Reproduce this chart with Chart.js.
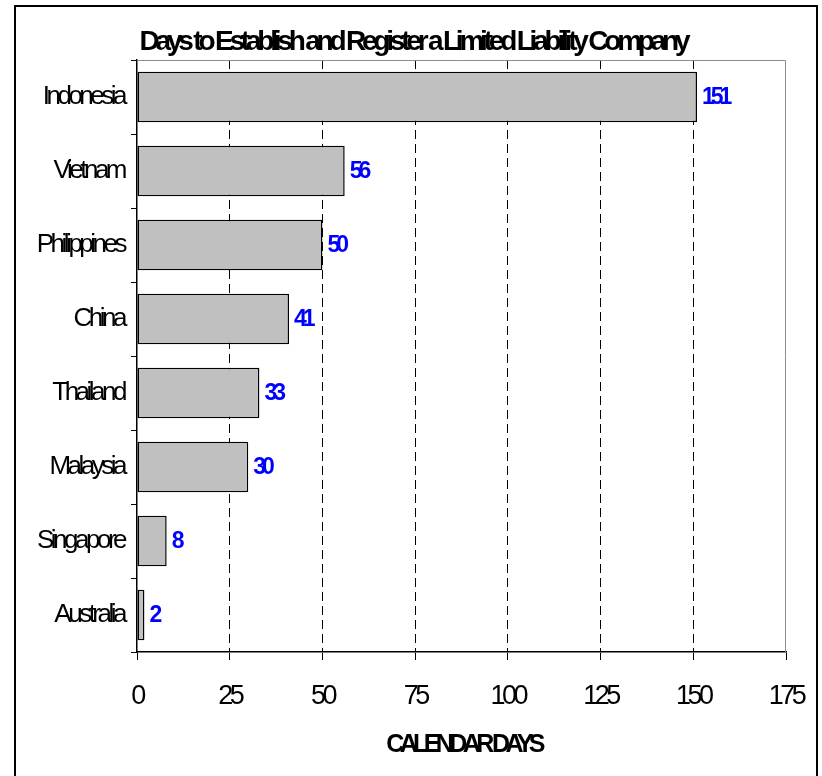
<!DOCTYPE html>
<html>
<head>
<meta charset="utf-8">
<script src="https://cdn.jsdelivr.net/npm/chart.js@4/dist/chart.umd.min.js"></script>
<style>
  html, body { margin: 0; padding: 0; background: #fff; }
  #wrap { width: 822px; height: 776px; }
</style>
</head>
<body>
<div id="wrap"><canvas id="chart" width="822" height="776"></canvas></div>
<script>
// Datos del gráfico
const countries = ['Indonesia', 'Vietnam', 'Philippines', 'China', 'Thailand', 'Malaysia', 'Singapore', 'Australia'];
const days = [151, 56, 50, 41, 33, 30, 8, 2];
const xTicks = [0, 25, 50, 75, 100, 125, 150, 175];
const chartTitle = 'Days to Establish and Register a Limited Liability Company';
const xAxisTitle = 'CALENDAR DAYS';

const family = "'Liberation Sans', Arial, sans-serif";

// Plugin para el marco, el título y las etiquetas de valores
const decorations = {
    id: 'decorations',
    beforeLayout(chart) {
        chart.ctx.letterSpacing = '-3.5px';
    },
    beforeDraw(chart) {
        const ctx = chart.ctx;
        ctx.letterSpacing = '-3.5px';
        ctx.save();
        ctx.strokeStyle = '#000';
        ctx.lineWidth = 2;
        ctx.strokeRect(15, 6, 802, 800);
        ctx.restore();
    },
    afterDatasetsDraw(chart) {
        const ctx = chart.ctx;
        const area = chart.chartArea;
        ctx.save();
        // borde gris superior y derecho del área de trazado
        ctx.strokeStyle = '#8c8c8c';
        ctx.lineWidth = 1;
        ctx.beginPath();
        ctx.moveTo(area.left, area.top + 0.5);
        ctx.lineTo(area.right - 0.5, area.top + 0.5);
        ctx.lineTo(area.right - 0.5, area.bottom);
        ctx.stroke();

        // etiquetas de valores
        ctx.letterSpacing = '-4px';
        ctx.fillStyle = '#0000ff';
        ctx.font = 'bold 23px ' + family;
        ctx.textAlign = 'left';
        ctx.textBaseline = 'middle';
        const meta = chart.getDatasetMeta(0);
        meta.data.forEach((bar, i) => {
            ctx.fillText(String(days[i]), bar.x + 5, bar.y + 1);
        });

        // título
        ctx.fillStyle = '#000';
        ctx.letterSpacing = '-4.2px';
        ctx.font = 'bold 28px ' + family;
        ctx.textAlign = 'center';
        ctx.textBaseline = 'alphabetic';
        ctx.fillText(chartTitle, 413, 50);

        // título del eje X
        ctx.letterSpacing = '-4.6px';
        ctx.font = 'bold 25px ' + family;
        ctx.fillText(xAxisTitle, (area.left + area.right) / 2 + 2, 752);
        ctx.restore();
    }
};

const ctx = document.getElementById('chart').getContext('2d');
window.myChart = new Chart(ctx, {
    type: 'bar',
    data: {
        labels: countries,
        datasets: [
            {
                data: days,
                backgroundColor: '#c0c0c0',
                borderColor: '#000',
                borderWidth: 1.5,
                borderSkipped: false,
                barPercentage: 0.68,
                categoryPercentage: 1
            }
        ]
    },
    options: {
        indexAxis: 'y',
        responsive: false,
        animation: false,
        layout: {
            padding: { top: 60, right: 36, bottom: 0, left: 0 }
        },
        plugins: {
            legend: { display: false },
            title: { display: false },
            tooltip: { enabled: false }
        },
        scales: {
            x: {
                min: 0,
                max: 175,
                afterBuildTicks(scale) {
                    scale.ticks = xTicks.map(v => ({ value: v }));
                },
                afterFit(scale) {
                    scale.height = 124;
                    scale.paddingRight = 0;
                    scale.paddingLeft = 0;
                },
                grid: {
                    color: c => (c.tick && (c.tick.value === 0 || c.tick.value === 175)) ? 'rgba(0,0,0,0)' : '#000',
                    lineWidth: 1,
                    tickColor: '#000',
                    tickLength: 8,
                    tickBorderDash: []
                },
                border: {
                    color: '#000',
                    width: 1.5,
                    dash: [9, 5]
                },
                ticks: {
                    color: '#000',
                    padding: 20,
                    maxRotation: 0,
                    font: { family: family, size: 27 }
                }
            },
            y: {
                afterFit(scale) {
                    scale.width = 137;
                },
                grid: {
                    offset: true,
                    drawOnChartArea: false,
                    tickColor: '#000',
                    tickLength: 6
                },
                border: {
                    color: '#000',
                    width: 1.5
                },
                ticks: {
                    color: '#000',
                    padding: 7,
                    font: { family: family, size: 26 }
                }
            }
        }
    },
    plugins: [decorations]
});
</script>
</body>
</html>
